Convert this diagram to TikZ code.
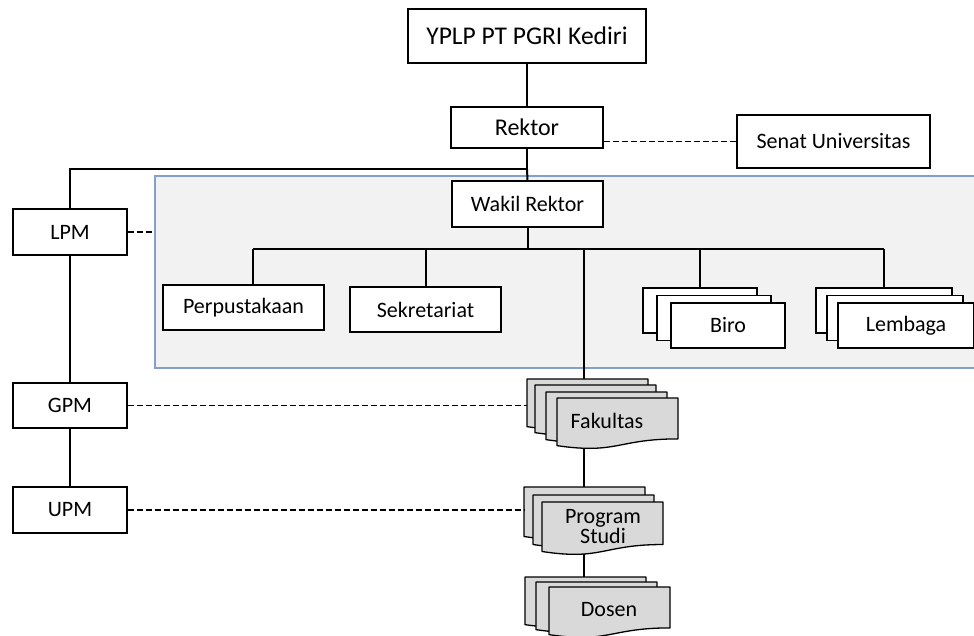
\documentclass[tikz,border=0pt]{standalone}
\usepackage{fontspec}
\setmainfont{Carlito}
\usepackage{tikz}
\usetikzlibrary{calc, positioning}
\definecolor{panelfill}{RGB}{242,242,242}
\definecolor{panelline}{RGB}{132,160,200}
\definecolor{pagefill}{RGB}{217,217,217}
\tikzset{
  box/.style={draw, fill=white, line width=1.3pt, inner sep=0pt, font=\fontsize{22}{26}\selectfont},
  panel/.style={draw=panelline, fill=panelfill, line width=1.5pt, inner sep=0pt},
  link/.style={line width=2pt},
  dlink/.style={line width=1.7pt, dash pattern=on 6pt off 3pt},
  docpg/.style={draw, fill=pagefill, line width=1.3pt, line join=round},
  doctext/.style={align=center, inner sep=0pt, font=\fontsize{22}{20}\selectfont},
}
% one sheet of a stacked document symbol: name, left, top, width, height
\newcommand{\docpage}[5]{%
  \coordinate (#1) at (#2,#3);
  \draw[docpg] (#2,#3) -- ({#2+#4},#3) -- ({#2+#4},{#3+0.802*#5})
    .. controls ({#2+0.5*#4},{#3+0.802*#5}) and ({#2+0.5*#4},{#3+1.107*#5}) .. (#2,{#3+0.934*#5}) -- cycle;
}

\begin{document}
\begin{tikzpicture}[x=1pt, y=-1pt]
  \useasboundingbox (0,0) rectangle (974,635);
  \clip (0,0) rectangle (974,635);

  % grey panel behind the units under the vice rector
  \node[panel, anchor=north west, minimum width=840pt, minimum height=192pt] (panel) at (154,175) {};

  % top of the chart
  \node[box, minimum width=238pt, minimum height=54pt, font=\fontsize{25.5}{30}\selectfont] (yplp) at (527,36) {YPLP PT PGRI Kediri};
  \node[box, minimum width=152pt, minimum height=41pt, font=\fontsize{24}{28}\selectfont] (rektor) at (527,127.5) {Rektor};
  \node[box, minimum width=193pt, minimum height=53pt] (senat) at (833.5,141.5) {Senat Universitas};
  \node[box, minimum width=151pt, minimum height=46pt] (wakil) at (527.5,204) {Wakil Rektor};

  % quality units on the left
  \node[box, minimum width=114pt, minimum height=46pt] (lpm) at (70,232) {LPM};
  \node[box, minimum width=114pt, minimum height=45pt] (gpm) at (70,405.5) {GPM};
  \node[box, minimum width=114pt, minimum height=46pt] (upm) at (70,510) {UPM};

  % units inside the panel
  \node[box, minimum width=161pt, minimum height=45pt] (perpus) at (243.5,307.5) {Perpustakaan};
  \node[box, minimum width=151pt, minimum height=45pt] (sekre) at (425.5,309.5) {Sekretariat};
  \foreach \n/\cx/\cy in {biro-1/700/310.5, biro-2/714/318} {
    \node[box, minimum width=114pt, minimum height=45pt] (\n) at (\cx,\cy) {};
  }
  \node[box, minimum width=114pt, minimum height=45pt] (biro) at (728,325.5) {Biro};
  \foreach \n/\cx/\cy in {lemb-1/884/310.5, lemb-2/895/318} {
    \node[box, minimum width=136pt, minimum height=45pt] (\n) at (\cx,\cy) {};
  }
  \node[box, minimum width=136pt, minimum height=45pt] (lemb) at (906,325.5) {Lembaga};

  % solid lines
  \coordinate (hub) at (527,169);
  \coordinate (bus) at (0,249);
  \coordinate (perpus-top) at ([xshift=9.5pt]perpus.north);
  \coordinate (fak-top) at (584,379);
  \coordinate (prodi-top) at (584,487);
  \coordinate (dosen-top) at (584,577);
  \draw[link] (yplp.south) -- (rektor.north);
  \draw[link] (rektor.south) -- (hub) -| (lpm.north);
  \draw[link] (hub) -- (wakil.north);
  \draw[link] (lpm.south) -- (gpm.north);
  \draw[link] (gpm.south) -- (upm.north);
  \draw[link] (wakil.south) -- (wakil.south |- bus);
  \draw[link] (perpus-top |- bus) -- (lemb-1.north |- bus);
  \draw[link] (perpus-top |- bus) -- (perpus-top);
  \foreach \n in {sekre, biro-1, lemb-1} {
    \draw[link] (\n.north |- bus) -- (\n.north);
  }
  \draw[link] (fak-top |- bus) -- (fak-top) -- (prodi-top) -- (dosen-top);

  % stacked document symbols
  \foreach \n/\px/\py in {fak-1/527/379, fak-2/535/385, fak-3/546/392, fak-4/557/398} {
    \docpage{\n}{\px}{\py}{121}{51}
  }
  \foreach \n/\px/\py in {prodi-1/524/487, prodi-2/533/495, prodi-3/542/502} {
    \docpage{\n}{\px}{\py}{121}{53}
  }
  \foreach \n/\px/\py in {dosen-1/525/577, dosen-2/536/582, dosen-3/549/587} {
    \docpage{\n}{\px}{\py}{121}{51}
  }
  \node[doctext] (fak) at (607,421) {Fakultas};
  \node[doctext] (prodi) at (603,527) {Program\\Studi};
  \node[doctext] (dosen) at (609,610) {Dosen};

  % dashed lines
  \draw[dlink] (senat.west -| rektor.east) -- (senat.west);
  \draw[dlink] (lpm.east) -- (lpm.east -| panel.west);
  \draw[dlink] (gpm.east) -- (gpm.east -| fak-1);
  \draw[dlink] (upm.east) -- (upm.east -| prodi-1);
\end{tikzpicture}
\end{document}
